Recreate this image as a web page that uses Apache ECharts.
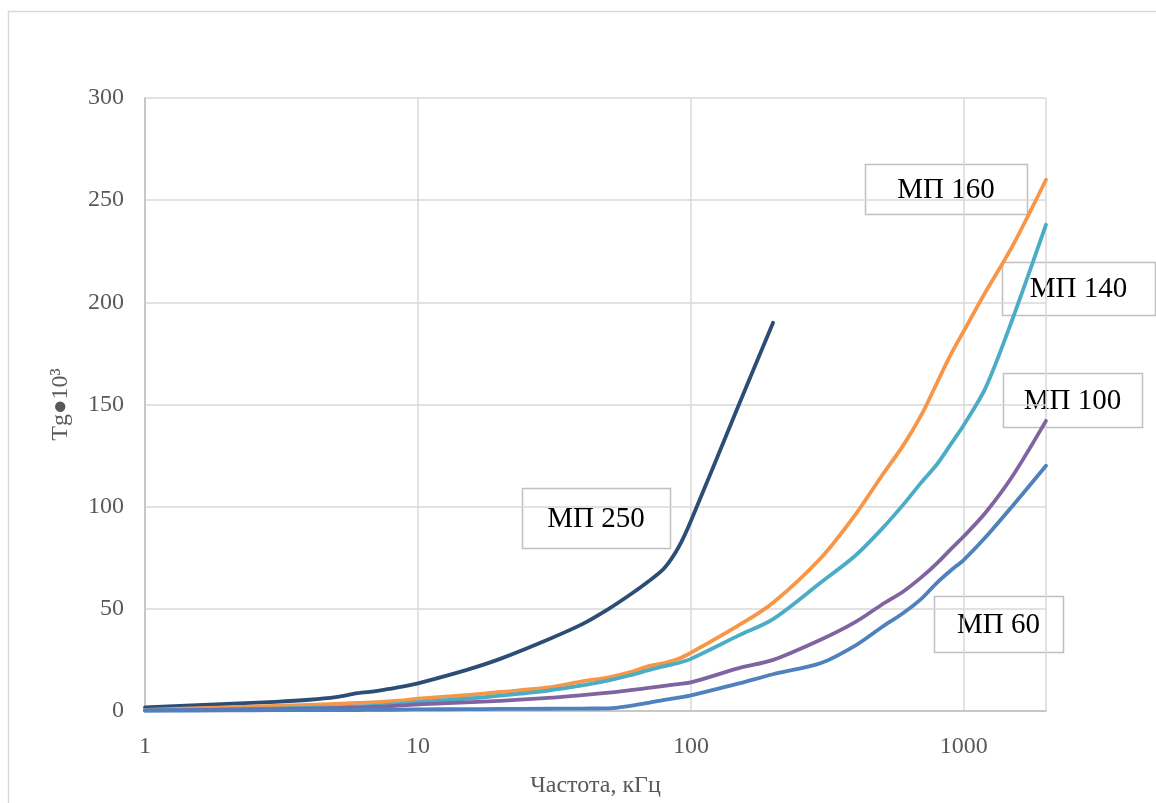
<!DOCTYPE html>
<html>
<head>
<meta charset="utf-8">
<script src="https://cdn.jsdelivr.net/npm/echarts@6/dist/echarts.min.js"></script>
<style>
  html, body { margin: 0; padding: 0; background: #ffffff; }
  #chart { width: 1156px; height: 803px; }
</style>
</head>
<body>
<div id="chart"></div>
<script>
// Frequency points, kHz
const freq = [1, 2, 3, 4, 5, 6, 7, 8, 9, 10, 15, 20, 30, 40, 50, 60, 70, 80, 90, 100,
              150, 200, 300, 400, 500, 600, 700, 800, 900, 1000, 1200, 1500, 2000];

// Tg·10^3 for each material (МП 250 measured only up to 200 kHz)
const mp250 = [1.8, 3.5, 4.5, 5.5, 6.8, 8.7, 9.7, 11, 12.2, 13.5, 20, 25.5, 35, 42.5, 50, 57, 63.5, 70, 80, 93,
               150, 190];
const mp160 = [0.5, 1.8, 2.5, 3, 3.5, 4, 4.3, 4.8, 5.3, 6, 7.8, 9.3, 11.5, 14.5, 16.5, 19, 22, 23.5, 25.5, 28.5,
               42, 53, 75, 96, 115, 130, 145, 161, 175, 186, 205, 227, 260];
const mp140 = [0.3, 0.8, 1.2, 1.5, 1.8, 2.2, 2.6, 3.2, 3.7, 4.3, 6, 7.5, 10, 12.5, 15, 17.5, 20, 22, 23.5, 25.5,
               37, 45, 63, 76, 89, 101, 112, 121, 131, 140, 158, 191, 238];
const mp100 = [0.3, 0.6, 0.9, 1.1, 1.4, 1.7, 2, 2.4, 2.8, 3.2, 4.2, 5, 6.4, 7.8, 9, 10.2, 11.3, 12.3, 13.2, 14,
               21, 25, 35, 43.5, 52, 58.5, 65.5, 72.5, 79.5, 85.5, 97, 114.5, 142];
const mp60  = [0.2, 0.3, 0.4, 0.4, 0.5, 0.5, 0.6, 0.6, 0.7, 0.8, 0.9, 1, 1.1, 1.2, 1.3, 2.5, 4, 5.5, 6.5, 7.6,
               13.5, 18, 23.5, 32, 41, 48, 55, 63, 69, 74, 85, 100, 120];

const yTicks = [0, 50, 100, 150, 200, 250, 300];

const seriesDefs = [
  { name: 'МП 250', values: mp250, color: '#2C4D75' },
  { name: 'МП 160', values: mp160, color: '#F79646' },
  { name: 'МП 140', values: mp140, color: '#4BACC6' },
  { name: 'МП 100', values: mp100, color: '#8064A2' },
  { name: 'МП 60',  values: mp60,  color: '#4F81BD' }
];

const serif = '"Liberation Serif", "Times New Roman", serif';
const axisGrey = '#595959';

function pairs(values) {
  return values.map((v, i) => [freq[i], v]);
}

// Callout boxes naming each curve
const callouts = [
  { text: 'МП 160', x: 865, y: 164, w: 162, h: 50 },
  { text: 'МП 140', x: 1002, y: 262, w: 153, h: 53 },
  { text: 'МП 100', x: 1003, y: 373, w: 139, h: 54 },
  { text: 'МП 250', x: 522, y: 488, w: 148, h: 60 },
  { text: 'МП 60',  x: 934, y: 596, w: 129, h: 56 }
];

const chart = echarts.init(document.getElementById('chart'), null, { renderer: 'canvas' });

chart.setOption({
  animation: false,
  backgroundColor: '#ffffff',
  grid: { left: 145, right: 110, top: 98, bottom: 82, containLabel: false },
  xAxis: {
    type: 'log',
    logBase: 10,
    min: 1,
    max: 2000,
    name: 'Частота, кГц',
    nameLocation: 'middle',
    nameGap: 63,
    nameTextStyle: { fontFamily: serif, fontSize: 24, color: axisGrey },
    axisLine: { show: true, lineStyle: { color: '#bfbfbf', width: 1.5 } },
    axisTick: { show: false },
    axisLabel: {
      fontFamily: serif, fontSize: 24, color: axisGrey, margin: 24,
      formatter: v => String(Math.round(v)),
      showMaxLabel: false
    },
    splitLine: { show: true, lineStyle: { color: '#d9d9d9', width: 1.5 } },
    minorTick: { show: false },
    minorSplitLine: { show: false }
  },
  yAxis: {
    type: 'value',
    min: yTicks[0],
    max: yTicks[yTicks.length - 1],
    interval: 50,
    name: 'Tg●10³',
    nameLocation: 'middle',
    nameGap: 72,
    nameRotate: 90,
    nameTextStyle: { fontFamily: serif, fontSize: 24, color: axisGrey },
    axisLine: { show: true, lineStyle: { color: '#bfbfbf', width: 1.5 } },
    axisTick: { show: false },
    axisLabel: { fontFamily: serif, fontSize: 24, color: axisGrey, margin: 21 },
    splitLine: { show: true, lineStyle: { color: '#d9d9d9', width: 1.5 } }
  },
  series: seriesDefs.map(s => ({
    name: s.name,
    type: 'line',
    data: pairs(s.values),
    smooth: 0.3,
    symbol: 'none',
    lineStyle: { color: s.color, width: 3.8, cap: 'round', join: 'round' },
    itemStyle: { color: s.color },
    z: 3
  })),
  graphic: [
    {
      type: 'rect',
      shape: { x: 8.5, y: 11.5, width: 1300, height: 900 },
      style: { fill: 'none', stroke: '#d9d9d9', lineWidth: 1.5 },
      silent: true,
      z: 0
    }
  ].concat(callouts.map(c => ({
    type: 'group',
    x: c.x,
    y: c.y,
    z: 10,
    children: [
      {
        type: 'rect',
        shape: { x: 0.5, y: 0.5, width: c.w, height: c.h },
        style: { fill: '#ffffff', stroke: '#bfbfbf', lineWidth: 1.5 }
      },
      {
        type: 'text',
        x: c.w / 2,
        y: c.h / 2 + 1,
        style: {
          text: c.text,
          fontFamily: serif,
          fontSize: 29,
          fill: '#000000',
          align: 'center',
          verticalAlign: 'middle'
        }
      }
    ]
  })))
});
</script>
</body>
</html>
